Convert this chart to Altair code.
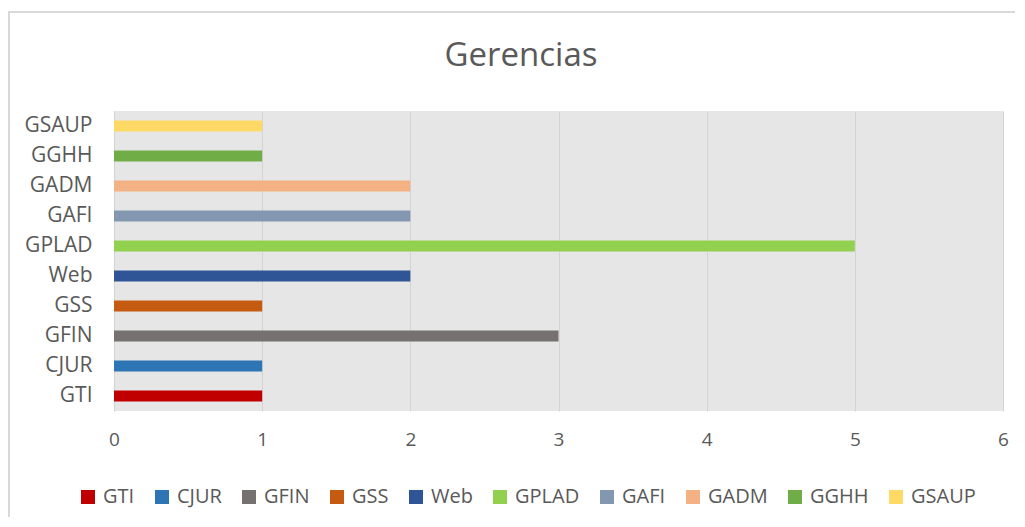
import altair as alt
import pandas as pd

categories = ["GTI", "CJUR", "GFIN", "GSS", "Web", "GPLAD", "GAFI", "GADM", "GGHH", "GSAUP"]
values = [1, 1, 3, 1, 2, 5, 2, 2, 1, 1]
colors = ["#C00000", "#2E75B6", "#767171", "#C55A11", "#2F5597",
          "#92D050", "#8497B0", "#F4B183", "#70AD47", "#FFD966"]
x_ticks = [0, 1, 2, 3, 4, 5, 6]
title_text = ["Gerencias"]

df = pd.DataFrame({"cat": categories, "val": values})

FONT = "Open Sans"
GREY = "#595959"

border = alt.Chart(pd.DataFrame({"a": [0]})).mark_rect(
    fillOpacity=0, stroke="#d9d9d9", strokeWidth=2
).encode(x=alt.value(-105), x2=alt.value(930), y=alt.value(-99), y2=alt.value(440))

title = alt.Chart(pd.DataFrame({"t": title_text})).mark_text(
    font=FONT, fontSize=33, color=GREY, align="center", baseline="alphabetic"
).encode(text="t:N", x=alt.value(407), y=alt.value(-45))

bars = alt.Chart(df).mark_bar(size=11).encode(
    x=alt.X("val:Q", scale=alt.Scale(domain=[0, 6], nice=False),
            axis=alt.Axis(values=x_ticks, title=None, grid=True, gridColor="#d4d4d4",
                          domain=False, ticks=False, labelPadding=19, labelFlush=False,
                          labelFontSize=19, labelColor=GREY, labelFont=FONT)),
    y=alt.Y("cat:N", sort=categories[::-1],
            axis=alt.Axis(title=None, domain=False, ticks=False, grid=False,
                          labelPadding=22, labelFontSize=21, labelColor=GREY,
                          labelFont=FONT)),
    color=alt.Color("cat:N", sort=categories,
                    scale=alt.Scale(domain=categories, range=colors),
                    legend=alt.Legend(title=None, orient="none", direction="horizontal",
                                      columns=10, legendX=-36, legendY=376,
                                      symbolType="square", symbolSize=196,
                                      symbolStrokeWidth=0, labelFontSize=20,
                                      labelColor=GREY, labelFont=FONT,
                                      columnPadding=17, labelOffset=5)),
)

chart = alt.layer(border, title, bars).properties(
    width=889, height=300,
    autosize=alt.AutoSizeParams(type="none"),
    padding={"left": 106, "top": 103, "right": 12, "bottom": 106},
).configure(background="white").configure_view(fill="#e6e6e6", stroke=None)

chart.save("out.html", embed_options={"renderer": "svg", "actions": False})
